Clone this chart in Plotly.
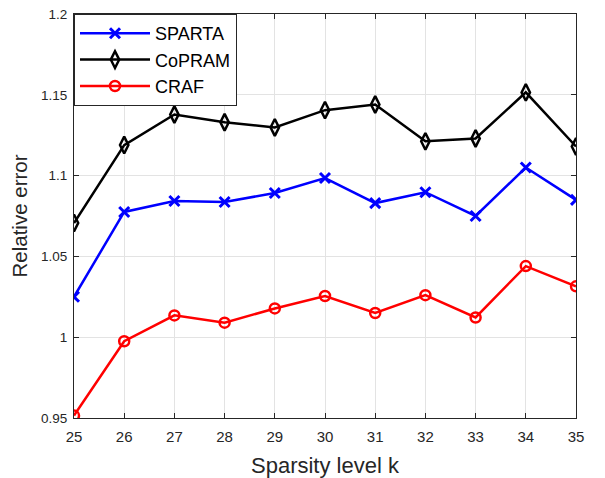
import plotly.graph_objects as go

k = [25, 26, 27, 28, 29, 30, 31, 32, 33, 34, 35]
sparta = [1.025, 1.0775, 1.0843, 1.0837, 1.0892, 1.0985, 1.083, 1.0897, 1.075, 1.1050, 1.0850]
copram = [1.0707, 1.1189, 1.1378, 1.1330, 1.1298, 1.1405, 1.1440, 1.1212, 1.1230, 1.1515, 1.1180]
craf = [0.9515, 0.9975, 1.0135, 1.0090, 1.0178, 1.0255, 1.0150, 1.0260, 1.0122, 1.0440, 1.0315]

FONT = "Liberation Sans, Arial"
fig = go.Figure()
fig.add_trace(go.Scatter(x=k, y=sparta, name="SPARTA", mode="lines+markers",
                         line=dict(color="#0000ff", width=2.5),
                         marker=dict(symbol="x-thin-open", size=10, line=dict(color="#0000ff", width=3))))
fig.add_trace(go.Scatter(x=k, y=copram, name="CoPRAM", mode="lines+markers",
                         line=dict(color="#000000", width=2.5),
                         marker=dict(symbol="diamond-tall-open", size=12, color="#000000", line=dict(width=2.5))))
fig.add_trace(go.Scatter(x=k, y=craf, name="CRAF", mode="lines+markers",
                         line=dict(color="#ff0000", width=2.5),
                         marker=dict(symbol="circle-open", size=10, color="#ff0000", line=dict(width=2.5))))

axis_common = dict(showgrid=True, gridcolor="#e3e3e3", gridwidth=1, showline=True,
                   linecolor="#262626", linewidth=1, mirror="ticks", ticks="inside",
                   ticklen=5, tickcolor="#262626", zeroline=False, automargin=False)

fig.update_xaxes(range=[25, 35], tickvals=k, ticktext=[str(v) for v in k],
                 tickfont=dict(family=FONT, size=15, color="#262626"), ticklabelstandoff=5,
                 title=dict(text="Sparsity level k", font=dict(family=FONT, size=22, color="#262626"), standoff=14),
                 **axis_common)
fig.update_yaxes(range=[0.95, 1.2], tickvals=[0.95, 1.0, 1.05, 1.1, 1.15, 1.2],
                 ticktext=["0.95", "1", "1.05", "1.1", "1.15", "1.2"],
                 tickfont=dict(family=FONT, size=13.5, color="#262626"), ticklabelstandoff=3,
                 title=dict(text="Relative error", font=dict(family=FONT, size=20.5, color="#262626"), standoff=7),
                 **axis_common)

fig.update_layout(
    width=605, height=478,
    margin=dict(l=74, r=29, t=14, b=60),
    paper_bgcolor="white", plot_bgcolor="white",
    showlegend=True,
    legend=dict(x=0, y=1, xanchor="left", yanchor="top", bgcolor="white",
                bordercolor="#262626", borderwidth=1,
                font=dict(family=FONT, size=18, color="#000000"),
                itemwidth=70, tracegroupgap=2),
)

fig.write_html("out.html")
